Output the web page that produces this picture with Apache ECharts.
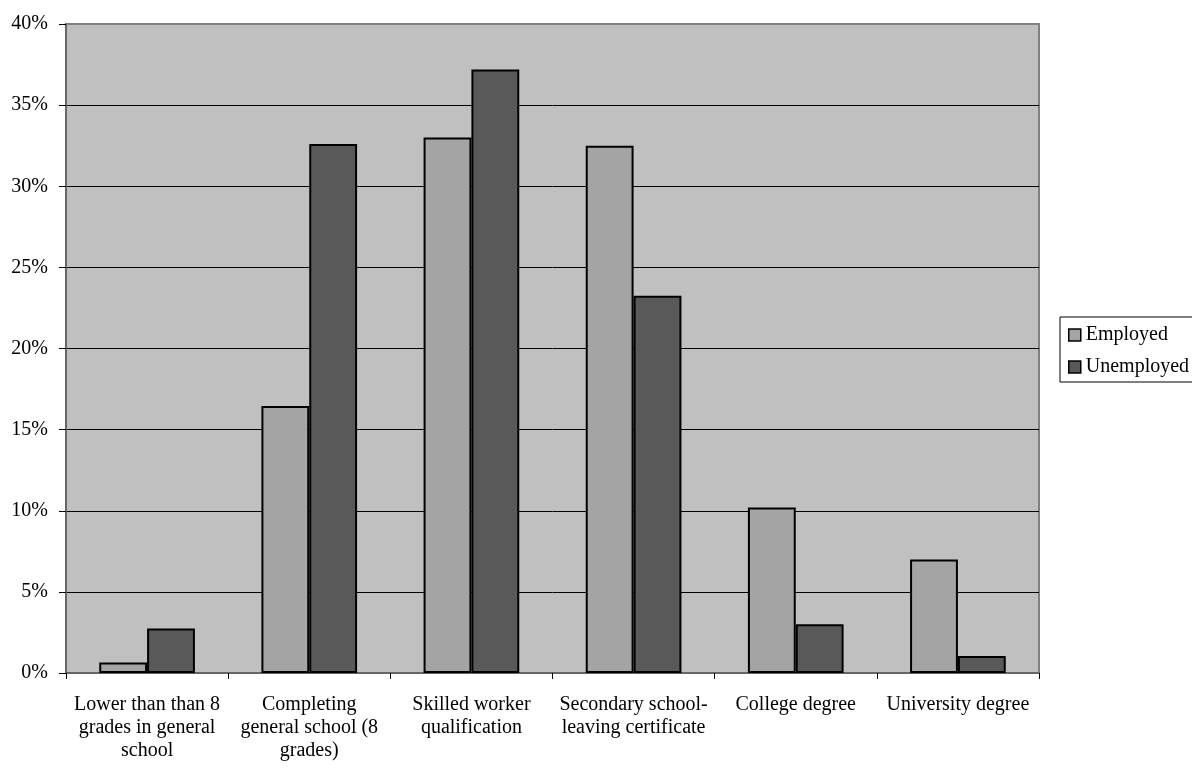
<!DOCTYPE html>
<html>
<head>
<meta charset="utf-8">
<script src="https://cdn.jsdelivr.net/npm/echarts@6/dist/echarts.min.js"></script>
<style>
  html, body { margin: 0; padding: 0; background: #ffffff; }
  #chart { width: 1192px; height: 768px; }
</style>
</head>
<body>
<div id="chart"></div>
<script>
// Education level categories (line breaks as in the axis labels)
const categories = [
  'Lower than than 8\ngrades in general\nschool',
  'Completing\ngeneral school (8\ngrades)',
  'Skilled worker\nqualification',
  'Secondary school-\nleaving certificate',
  'College degree',
  'University degree'
];

// Share of each group by education level, in percent
const employed   = [0.65, 16.45, 33.0, 32.5, 10.2, 7.0];
const unemployed = [2.75, 32.6, 37.2, 23.25, 3.0, 1.05];

const seriesNames = ['Employed', 'Unemployed'];

const font = 'Liberation Serif, Times New Roman, serif';

const chart = echarts.init(document.getElementById('chart'));

chart.setOption({
  animation: false,
  backgroundColor: '#ffffff',
  textStyle: { fontFamily: font, color: '#000' },
  grid: {
    left: 66, right: 153, top: 24, bottom: 95,
    show: true,
    backgroundColor: '#C0C0C0',
    borderColor: '#808080',
    borderWidth: 2
  },
  legend: {
    orient: 'vertical',
    left: 1060, top: 317,
    padding: [8, 40, 5, 8],
    itemWidth: 12, itemHeight: 12,
    itemGap: 12,
    borderColor: '#000', borderWidth: 1,
    backgroundColor: '#fff',
    icon: 'rect',
    itemStyle: { borderColor: '#000', borderWidth: 1.5 },
    textStyle: { fontFamily: font, fontSize: 20, color: '#000', lineHeight: 20 },
    data: seriesNames
  },
  xAxis: {
    type: 'category',
    data: categories,
    boundaryGap: true,
    axisLine: { lineStyle: { color: '#666', width: 2 } },
    axisTick: { show: true, alignWithLabel: false, length: 6, lineStyle: { color: '#000' } },
    axisLabel: {
      interval: 0, margin: 20,
      fontFamily: font, fontSize: 20, lineHeight: 23, color: '#000', align: 'center'
    }
  },
  yAxis: {
    type: 'value',
    min: 0, max: 40, interval: 5,
    axisLine: { show: true, lineStyle: { color: '#666', width: 2 } },
    axisTick: { show: true, length: 7, lineStyle: { color: '#000' } },
    axisLabel: { margin: 18, fontFamily: font, fontSize: 20, color: '#000', formatter: '{value}%' },
    splitLine: {
      show: true,
      lineStyle: {
        color: ['#000', '#000', '#000', '#000', '#000', '#000', '#000', '#000', '#808080'],
        width: 1
      }
    }
  },
  series: [
    {
      name: seriesNames[0],
      type: 'bar',
      data: employed,
      barGap: '0%',
      barCategoryGap: '41%',
      itemStyle: { color: '#A4A4A4', borderColor: '#000', borderWidth: 2 }
    },
    {
      name: seriesNames[1],
      type: 'bar',
      data: unemployed,
      barGap: '0%',
      barCategoryGap: '41%',
      itemStyle: { color: '#595959', borderColor: '#000', borderWidth: 2 }
    }
  ]
});
</script>
</body>
</html>
